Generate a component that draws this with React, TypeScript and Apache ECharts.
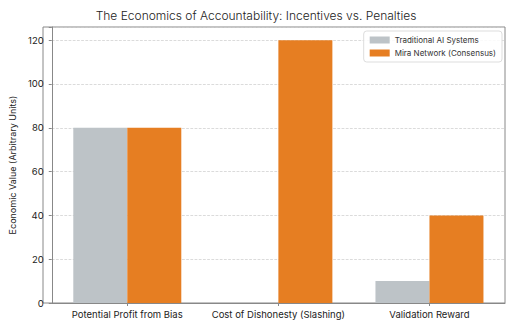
import React, { useEffect, useRef } from "react";
import * as echarts from "echarts";

const categories = ["Potential Profit from Bias", "Cost of Dishonesty (Slashing)", "Validation Reward"];
const traditional = [80, 0, 10];
const mira = [80, 120, 40];
const yTicks = [0, 20, 40, 60, 80, 100, 120];

export default function App() {
  const ref = useRef<HTMLDivElement>(null);
  useEffect(() => {
    document.body.style.margin = "0";
    const chart = echarts.init(ref.current!, null, { renderer: "svg" });
    const font = "Inter, 'Open Sans', sans-serif";
    chart.setOption({
      animation: false,
      textStyle: { fontFamily: font },
      title: {
        text: "The Economics of Accountability: Incentives vs. Penalties",
        left: "center",
        top: 4,
        textStyle: { fontSize: 12, fontWeight: 300, color: "#222", fontFamily: font },
      },
      legend: {
        right: 10,
        top: 31,
        orient: "vertical",
        itemWidth: 20,
        itemHeight: 7,
        itemGap: 5,
        padding: [5, 6, 5, 6],
        borderColor: "#ddd",
        borderWidth: 1,
        borderRadius: 3,
        backgroundColor: "rgba(255,255,255,0.85)",
        icon: "rect",
        textStyle: { fontSize: 8, color: "#333", fontFamily: font },
        data: ["Traditional AI Systems", "Mira Network (Consensus)"],
      },
      grid: { left: 43, right: 7, top: 27, bottom: 22, containLabel: false },
      xAxis: {
        type: "category",
        data: categories,
        axisLine: { lineStyle: { color: "#888" } },
        axisTick: { show: true, alignWithLabel: true, length: 3, lineStyle: { color: "#888" } },
        axisLabel: { fontSize: 9.5, color: "#222", margin: 6, interval: 0, fontFamily: font },
      },
      yAxis: {
        type: "value",
        min: 0,
        max: 126,
        interval: 20,
        name: "Economic Value (Arbitrary Units)",
        nameLocation: "middle",
        nameGap: 28,
        nameTextStyle: { fontSize: 9, color: "#222", fontFamily: font },
        axisLine: { show: true, lineStyle: { color: "#888" } },
        axisTick: { show: true, length: 3, lineStyle: { color: "#888" } },
        axisLabel: {
          fontSize: 9.5,
          color: "#222",
          fontFamily: font,
          formatter: (v: number) => (yTicks.includes(v) ? String(v) : ""),
        },
        splitLine: { show: true, lineStyle: { color: "#ccc", type: "dashed", width: 0.7 } },
      },
      graphic: [
        {
          type: "rect",
          shape: { x: 43, y: 27, width: 462, height: 276 },
          style: { fill: "none", stroke: "#888", lineWidth: 1 },
          silent: true,
        },
      ],
      series: [
        {
          name: "Traditional AI Systems",
          type: "bar",
          data: traditional,
          barWidth: 54,
          barGap: "0%",
          itemStyle: { color: "#bdc3c7" },
        },
        {
          name: "Mira Network (Consensus)",
          type: "bar",
          data: mira,
          barWidth: 54,
          barGap: "0%",
          itemStyle: { color: "#e67e22" },
        },
      ],
    });
    return () => chart.dispose();
  }, []);
  return <div ref={ref} style={{ width: 512, height: 325 }} />;
}
